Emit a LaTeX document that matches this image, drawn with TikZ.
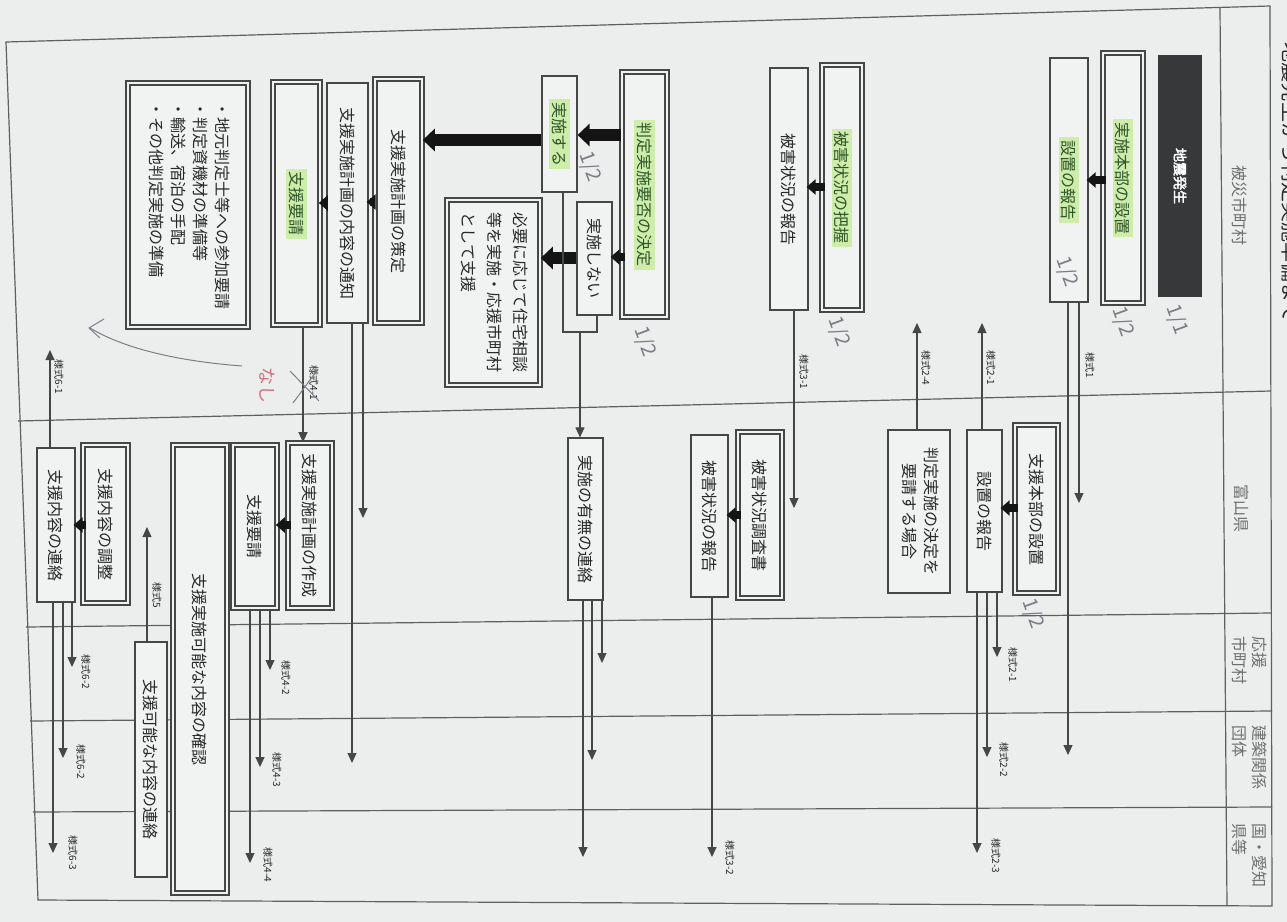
\documentclass[tikz,border=0pt]{standalone}
\usepackage{fontspec}
\setmainfont{Noto Sans CJK JP}
\newfontfamily\jpb[FakeBold=2.5]{Noto Sans CJK JP}
\usetikzlibrary{arrows.meta,fit}
\definecolor{paper}{RGB}{236,238,238}
\definecolor{boxfill}{RGB}{241,242,242}
\definecolor{linec}{RGB}{70,70,70}
\definecolor{framec}{RGB}{95,95,95}
\definecolor{arrc}{RGB}{20,20,20}
\definecolor{txt}{RGB}{40,40,40}
\definecolor{hlgreen}{RGB}{206,236,170}
\definecolor{hltext}{RGB}{45,85,40}
\definecolor{darkbox}{RGB}{55,56,58}
\definecolor{headc}{RGB}{110,110,110}
\definecolor{handc}{RGB}{125,125,135}
\definecolor{redhand}{RGB}{215,110,125}
\newcommand\rtx[1]{\rotatebox{-90}{#1}}
\newcommand\hlg[1]{{\setlength\fboxsep{1.5pt}\colorbox{hlgreen}{\color{hltext}#1}}}
\begin{document}
\begin{tikzpicture}[x=0.5pt,y=-0.5pt,
  frame/.style={draw=framec,line width=0.6pt},
  sbox/.style={draw=linec,line width=0.6pt,fill=boxfill,inner sep=0pt,text=txt,font=\fontsize{8}{11}\selectfont},
  dbox/.style={sbox,line width=0.8pt,double=boxfill,double distance=1.4pt},
  darkb/.style={fill=darkbox,draw=none,inner sep=0pt,text=white,font=\fontsize{7}{9}\selectfont},
  head/.style={text=headc,inner sep=0pt,font=\fontsize{8}{10}\selectfont},
  title/.style={text=txt,inner sep=0pt,font=\fontsize{10}{12}\selectfont},
  conn/.style={draw=linec,line width=0.55pt,-{Triangle[length=5pt,width=4.5pt]}},
  plain/.style={draw=linec,line width=0.55pt},
  fat/.style={draw=arrc,line width=4pt,-{Triangle[length=4.5pt,width=7.5pt]},shorten <=-2pt,shorten >=-1pt},
  big/.style={draw=arrc,line width=6pt,-{Triangle[length=6pt,width=11pt]}},
  lab/.style={text=txt,inner sep=0pt,font=\fontsize{5}{6}\selectfont},
  hand/.style={text=handc,inner sep=0pt,font=\fontsize{10}{12}\selectfont},
  handline/.style={draw=handc,line width=0.5pt}
]
\useasboundingbox (0,0) rectangle (1287,922);
\fill[paper] (0,0) rectangle (1287,922);

% ---- table frame ----
\draw[frame] (6,42) -- (1270,6) -- (1272,906) -- (38,900) -- cycle;
\draw[frame] (1220,8) -- (1227,906);
\draw[frame] (18,421) -- (1271,391);
\draw[frame] (26,627) -- (1271,613);
\draw[frame] (30,721) -- (1272,711);
\draw[frame] (33,812) -- (1272,807);

% ---- headers ----
\node[title] (ttl) at (1291,172) {\rtx{・地震発生から判定実施準備まで}};
\node[head] (h1) at (1240,205) {\rtx{被災市町村}};
\node[head] (h2) at (1242,508) {\rtx{富山県}};
\node[head] (h3) at (1247,660) {\rtx{\begin{tabular}{@{}l@{}}応援\\市町村\end{tabular}}};
\node[head] (h4) at (1247,757) {\rtx{\begin{tabular}{@{}l@{}}建築関係\\団体\end{tabular}}};
\node[head] (h5) at (1247,855) {\rtx{\begin{tabular}{@{}l@{}}国・愛知\\県等\end{tabular}}};

% ---- lane 1 boxes ----
\node[darkb,fit={(1158,55) (1202,297)}] (n1) {\rtx{\jpb 地震発生}};
\node[dbox,fit={(1103,53) (1143,303)}] (n2) {\rtx{\hlg{実施本部の設置}}};
\node[sbox,fit={(1050,58) (1088,302)}] (n3) {\rtx{\hlg{設置の報告}}};
\node[dbox,fit={(822,65) (862,310)}] (n4) {\rtx{\hlg{被害状況の把握}}};
\node[sbox,fit={(770,68) (808,310)}] (n5) {\rtx{被害状況の報告}};
\node[dbox,fit={(622,72) (667,317)}] (n6) {\rtx{\hlg{判定実施要否の決定}}};
\node[sbox,fit={(542,76) (577,192)}] (n7) {\rtx{\hlg{実施する}}};
\node[sbox,fit={(577,202) (612,315)}] (n8) {\rtx{実施しない}};
\node[dbox,fit={(447,200) (540,385)},font=\fontsize{8}{13}\selectfont] (n9) {\rtx{\begin{tabular}{@{}l@{}}必要に応じて住宅相談\\等を実施・応援市町村\\として支援\end{tabular}}};
\node[dbox,fit={(375,79) (422,323)}] (n10) {\rtx{支援実施計画の策定}};
\node[sbox,fit={(327,83) (368,323)}] (n11) {\rtx{支援実施計画の内容の通知}};
\node[dbox,fit={(273,82) (320,325)}] (n12) {\rtx{\hlg{支援要請}}};
\node[dbox,fit={(128,83) (248,327)}] (n13) {\rtx{\begin{tabular}{@{}l@{}}・地元判定士等への参加要請\\・判定資機材の準備等\\・輸送、宿泊の手配\\・その他判定実施の準備\end{tabular}}};

% ---- lane 2 boxes ----
\node[dbox,fit={(1015,425) (1058,593)}] (n14) {\rtx{支援本部の設置}};
\node[sbox,fit={(967,430) (1002,592)}] (n15) {\rtx{設置の報告}};
\node[sbox,fit={(888,430) (950,593)}] (n16) {\rtx{\begin{tabular}{@{}c@{}}判定実施の決定を\\要請する場合\end{tabular}}};
\node[dbox,fit={(738,432) (782,598)}] (n17) {\rtx{被害状況調査書}};
\node[sbox,fit={(691,435) (728,597)}] (n18) {\rtx{被害状況の報告}};
\node[sbox,fit={(568,438) (603,600)}] (n19) {\rtx{実施の有無の連絡}};
\node[dbox,fit={(288,443) (332,608)}] (n20) {\rtx{支援実施計画の作成}};
\node[dbox,fit={(233,445) (277,608)}] (n21) {\rtx{支援要請}};
\node[dbox,fit={(173,445) (227,893)}] (n22) {\rtx{支援実施可能な内容の確認}};
\node[dbox,fit={(83,445) (128,603)}] (n23) {\rtx{支援内容の調整}};
\node[sbox,fit={(37,448) (75,602)}] (n24) {\rtx{支援内容の連絡}};
\node[sbox,fit={(135,642) (167,877)}] (n25) {\rtx{支援可能な内容の連絡}};

% ---- thick arrows ----
\draw[fat] (n2.west |- 0,180) -- (n3.east |- 0,180);
\draw[fat] (n4.west |- 0,187) -- (n5.east |- 0,187);
\draw[big] (n6.west |- 0,135) -- (n7.east |- 0,135);
\draw[fat] (n6.west |- 0,257) -- (n8.east |- 0,257);
\draw[big] (n8.west |- 0,258) -- (n9.east |- 0,258);
\draw[big] (n7.west |- 0,140) -- (n10.east |- 0,140);
\draw[fat] (n10.west |- 0,202) -- (n11.east |- 0,202);
\draw[fat] (n11.west |- 0,203) -- (n12.east |- 0,203);
\draw[fat] (n14.west |- 0,508) -- (n15.east |- 0,508);
\draw[fat] (n17.west |- 0,515) -- (n18.east |- 0,515);
\draw[fat] (n20.west |- 0,525) -- (n21.east |- 0,525);
\draw[fat] (n23.west |- 0,525) -- (n24.east |- 0,525);

% ---- thin connectors ----
\coordinate (e1) at (1079,503);
\draw[conn] (n3.south -| e1) -- (e1);
\coordinate (e2) at (1068,755);
\draw[conn] (n3.south -| e2) -- (e2);
\node[lab] (l1) at (1090,365) {\rtx{様式1}};

\coordinate (u1) at (982,323);
\draw[conn] (n15.north -| u1) -- (u1);
\node[lab] (l2) at (991,368) {\rtx{様式2-1}};
\coordinate (u2) at (917,323);
\draw[conn] (n16.north -| u2) -- (u2);
\node[lab] (l3) at (926,368) {\rtx{様式2-4}};

\coordinate (e3) at (997,657);
\draw[conn] (n15.south -| e3) -- (e3);
\node[lab] (l4) at (1013,665) {\rtx{様式2-1}};
\coordinate (e4) at (987,757);
\draw[conn] (n15.south -| e4) -- (e4);
\node[lab] (l5) at (1004,760) {\rtx{様式2-2}};
\coordinate (e5) at (977,853);
\draw[conn] (n15.south -| e5) -- (e5);
\node[lab] (l6) at (996,856) {\rtx{様式2-3}};

\coordinate (e6) at (794,508);
\draw[conn] (n5.south -| e6) -- (e6);
\node[lab] (l7) at (804,372) {\rtx{様式3-1}};
\coordinate (e7) at (712,857);
\draw[conn] (n18.south -| e7) -- (e7);
\node[lab] (l8) at (730,858) {\rtx{様式3-2}};

% bracket from 実施する / 実施しない
\coordinate (b1) at (563,332);
\coordinate (b2) at (597,332);
\coordinate (bm) at (580,332);
\draw[plain] (n7.south -| b1) -- (b1) -- (b2) -- (n8.south -| b2);
\draw[conn] (bm) -- (n19.north -| bm);
\coordinate (e8) at (602,663);
\draw[conn] (n19.south -| e8) -- (e8);
\coordinate (e9) at (592,760);
\draw[conn] (n19.south -| e9) -- (e9);
\coordinate (e10) at (583,857);
\draw[conn] (n19.south -| e10) -- (e10);

% 支援要請 -> 支援実施計画の作成
\coordinate (c12) at (303,0);
\draw[conn] (n12.south -| c12) -- (n20.north -| c12);
\node[lab] (l9) at (314,383) {\rtx{様式4-1}};
\draw[handline] (290,371) -- (319,401);
\draw[handline] (293,403) -- (318,369);
\node[text=redhand,inner sep=0pt,font=\fontsize{9}{10}\selectfont] (nashi) at (267,385) {\rtx{なし}};

\coordinate (e11) at (363,518);
\draw[conn] (n11.south -| e11) -- (e11);
\coordinate (e12) at (352,763);
\draw[conn] (n11.south -| e12) -- (e12);

\coordinate (e13) at (270,670);
\draw[conn] (n21.south -| e13) -- (e13);
\node[lab] (l10) at (286,678) {\rtx{様式4-2}};
\coordinate (e14) at (260,767);
\draw[conn] (n21.south -| e14) -- (e14);
\node[lab] (l11) at (277,770) {\rtx{様式4-3}};
\coordinate (e15) at (250,863);
\draw[conn] (n21.south -| e15) -- (e15);
\node[lab] (l12) at (268,865) {\rtx{様式4-4}};

\coordinate (u3) at (50,350);
\draw[conn] (n24.north -| u3) -- (u3);
\node[lab] (l13) at (59,377) {\rtx{様式6-1}};
\coordinate (e16) at (72,667);
\draw[conn] (n24.south -| e16) -- (e16);
\node[lab] (l14) at (86,672) {\rtx{様式6-2}};
\coordinate (e17) at (63,758);
\draw[conn] (n24.south -| e17) -- (e17);
\node[lab] (l15) at (81,762) {\rtx{様式6-2}};
\coordinate (e18) at (53,853);
\draw[conn] (n24.south -| e18) -- (e18);
\node[lab] (l16) at (73,853) {\rtx{様式6-3}};

\coordinate (u4) at (147,527);
\draw[conn] (n25.north -| u4) -- (u4);
\node[lab] (l17) at (157,595) {\rtx{様式5}};

% ---- handwritten notes ----
\node[hand] (k1) at (1177,320) {\rotatebox{-70}{1/1}};
\node[hand] (k2) at (1123,322) {\rotatebox{-70}{1/2}};
\node[hand] (k3) at (1067,272) {\rotatebox{-70}{1/2}};
\node[hand] (k4) at (839,332) {\rotatebox{-70}{1/2}};
\node[hand] (k5) at (590,167) {\rotatebox{-70}{1/2}};
\node[hand] (k6) at (645,342) {\rotatebox{-70}{1/2}};
\node[hand] (k7) at (1033,614) {\rotatebox{-70}{1/2}};
\draw[handline] (242,366) .. controls (190,362) and (130,352) .. (90,328);
\draw[handline] (104,319) -- (89,328) -- (100,338);
\end{tikzpicture}
\end{document}
